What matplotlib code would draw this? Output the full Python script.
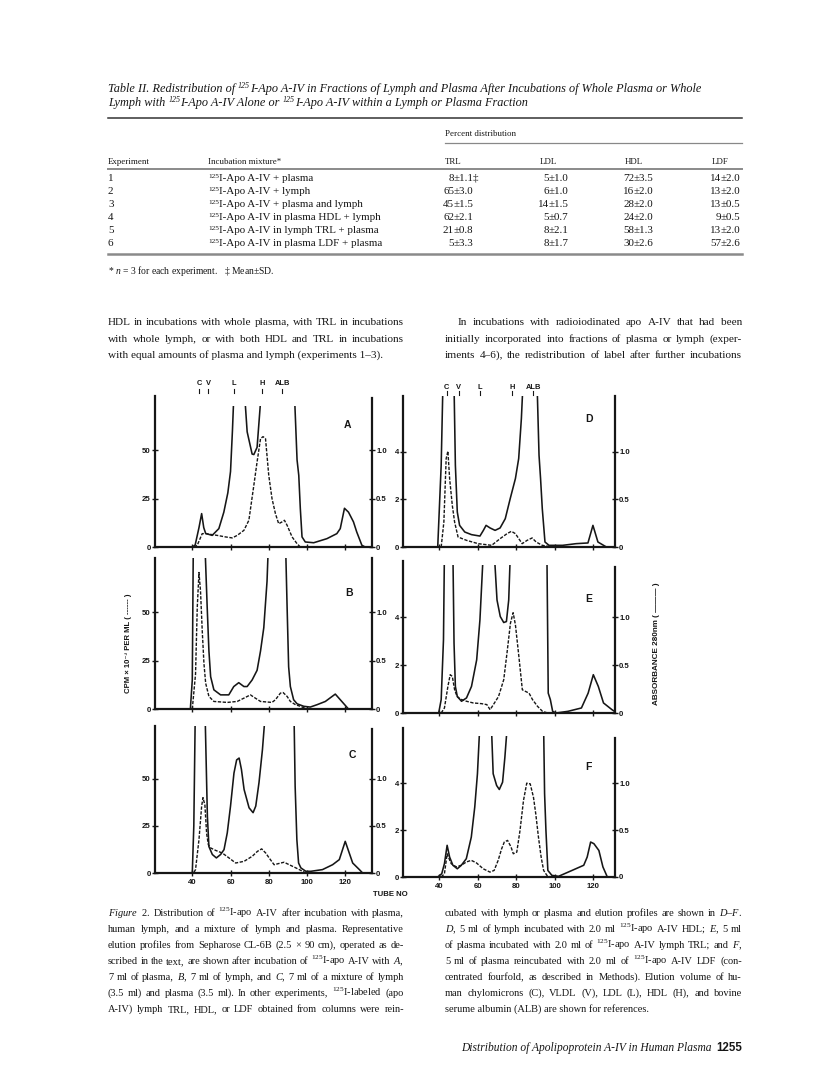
import matplotlib.pyplot as plt
from matplotlib.lines import Line2D
from matplotlib.patches import Rectangle
from matplotlib.transforms import blended_transform_factory

plt.rcParams['font.family'] = ['Liberation Serif', 'DejaVu Serif']
plt.rcParams['mathtext.fontset'] = 'custom'
plt.rcParams['mathtext.rm'] = 'Liberation Serif'
plt.rcParams['mathtext.it'] = 'Liberation Serif:italic'
plt.rcParams['mathtext.bf'] = 'Liberation Serif:bold'

# ---------------- Table II ----------------
experiments = ['1', '2', '3', '4', '5', '6']
mixtures = ['+ plasma', '+ lymph', '+ plasma and lymph', 'in plasma HDL + lymph',
            'in lymph TRL + plasma', 'in plasma LDF + plasma']
trl_mean = ['8', '65', '45', '62', '21', '5']
trl_sd = ['1.1‡', '3.0', '1.5', '2.1', '0.8', '3.3']
ldl_mean = ['5', '6', '14', '5', '8', '8']
ldl_sd = ['1.0', '1.0', '1.5', '0.7', '2.1', '1.7']
hdl_mean = ['72', '16', '28', '24', '58', '30']
hdl_sd = ['3.5', '2.0', '2.0', '2.0', '1.3', '2.6']
ldf_mean = ['14', '13', '13', '9', '13', '57']
ldf_sd = ['2.0', '2.0', '0.5', '0.5', '2.0', '2.6']
fraction_names = ['TRL', 'LDL', 'HDL', 'LDF']

# ---------------- Figure 2 elution profiles ----------------
# solid = absorbance 280 nm (right axis), dashed = cpm x 10^-3 per ml (left axis)
a_abs_x = [40, 41.5, 43.5, 44.9, 46, 47, 50.4, 53.9, 56.5, 58.6, 60, 61, 61.8, 64, 67.3, 68.7, 71.3, 72.2, 73.9, 75.7,
           76.5, 85, 93.4, 94.8, 95.7, 96.5, 97.4, 99.1, 103.5, 110.4, 115.6, 117.4, 119.6, 121.7, 124.3, 126, 128.7, 130.4]
a_abs_y = [0, 0.02, 0.2, 0.345, 0.2, 0.14, 0.12, 0.19, 0.36, 0.56, 0.78, 1.2, 1.6, 2.5, 1.6, 1.19, 0.96, 0.955, 1.03, 1.5,
           1.7, 3.0, 1.6, 0.9, 0.74, 0.4, 0.104, 0.052, 0.044, 0.086, 0.138, 0.19, 0.4, 0.36, 0.26, 0.156, 0.018, 0]
a_cpm_x = [40.9, 42.6, 45.2, 47, 53, 57.4, 60.9, 63.5, 67, 69.6, 72.2, 73.9, 75.7, 77, 78.3, 80, 81.7, 83.5, 85.2, 87,
           88.2, 89.6, 92.2, 94.8, 96.5]
a_cpm_y = [0, 0.9, 6.9, 6.9, 6, 5.2, 4.7, 6, 8.6, 13.8, 31.9, 44, 56, 57, 56, 37, 25, 17.2, 12, 13, 13.8, 11.2, 5.2, 1.7, 0]

b_abs_x = [39, 40, 40.5, 42, 46.8, 47.8, 48.7, 49.6, 51.3, 54.8, 59.1, 61.7, 64.3, 67, 68.7, 71.3, 73.9, 75.7, 77.4, 79.1,
           79.8, 85, 88.8, 89.6, 90.4, 91.3, 93, 94.8, 98.3, 101.7, 105.2, 109.6, 114.8, 117.4, 121.7]
b_abs_y = [0, 0.3, 1.6, 3.0, 1.6, 1.05, 0.6, 0.334, 0.198, 0.146, 0.146, 0.232, 0.272, 0.232, 0.232, 0.3, 0.4, 0.6, 0.84, 1.32,
           1.7, 3.0, 1.7, 1.05, 0.436, 0.232, 0.096, 0.054, 0.028, 0.02, 0.044, 0.078, 0.154, 0.096, 0]
b_cpm_x = [40, 41.7, 42.6, 43.5, 44.3, 45.2, 46.1, 47, 48.7, 51.3, 58.3, 63.5, 67, 70.4, 73, 75.7, 81.7, 83.5, 86.1, 87.5,
           89.6, 91.3, 94, 96.5, 100]
b_cpm_y = [0, 18, 52.5, 70.5, 61, 40.6, 23.5, 13.3, 6.5, 3.9, 3.4, 3.9, 5.6, 7.3, 5.6, 3.9, 3.4, 4.8, 8.2, 8.5,
           6.5, 3.9, 2.2, 1.4, 0]

c_abs_x = [40, 40.8, 41.5, 44, 46.8, 47.9, 48.7, 50.5, 52.6, 54.8, 56.6, 58.3, 60, 61.8, 63.2, 64.5, 65.7, 67.1, 69.7, 71.8,
           73.2, 74.9, 76.7, 78.2, 86, 93.2, 93.8, 94.7, 95.6, 96.8, 99.4, 102, 108.1, 113.4, 116.9, 120, 122.1, 123.9, 127.4, 129.1]
c_abs_y = [0, 0.5, 1.6, 3.0, 1.6, 0.6, 0.28, 0.196, 0.16, 0.196, 0.248, 0.426, 0.71, 1.06, 1.2, 1.22, 1.1, 0.886, 0.692, 0.64,
           0.71, 0.96, 1.31, 1.7, 3.0, 1.7, 0.92, 0.354, 0.106, 0.054, 0.018, 0.018, 0.036, 0.088, 0.142, 0.336, 0.212, 0.106, 0.036, 0]
c_cpm_x = [40.9, 41.7, 43.5, 44.9, 45.6, 46.6, 47.5, 48.4, 49.6, 52.2, 55.7, 59.2, 62.7, 67.1, 71.4, 74.1, 76.3, 78.4, 80.2,
           82.8, 86.3, 88, 90.7, 94.2, 97.7, 99.4]
c_cpm_y = [0.4, 1.8, 17.7, 35.5, 40, 36, 21, 15, 13.3, 12, 10.6, 8, 5.3, 6.2, 8.9, 11.5, 12.8, 10.6, 8,
           4.4, 5.3, 5.7, 4.4, 2.7, 0.9, 0]

d_abs_x = [39.1, 40.9, 41.8, 44.5, 47.6, 48.3, 49.3, 50.5, 53.2, 56.7, 61.1, 62.9, 64.3, 66.4, 69, 71.6, 74.3, 76.9, 79.6, 81.3,
           82.7, 83.5, 87, 90.9, 91.9, 92.7, 93.6, 95, 97.1, 104.2, 111.2, 117.4, 120, 122.6, 127]
d_abs_y = [0, 0.86, 1.7, 3.0, 1.7, 0.86, 0.3675, 0.2275, 0.1575, 0.13, 0.115, 0.175, 0.2275, 0.2, 0.175, 0.2, 0.2975, 0.51, 0.72, 0.93,
           1.35, 1.7, 3.0, 1.7, 0.965, 0.72, 0.4025, 0.0525, 0.0175, 0.0175, 0.035, 0.0425, 0.2275, 0.0525, 0]
d_cpm_x = [40.9, 42.3, 43.5, 44.4, 45.3, 46.7, 47.9, 49.7, 54.1, 60.2, 67.2, 71.6, 75.2, 77.5, 79.6, 83.1, 85.7, 88.3, 90.4,
           93.6, 98.9]
d_cpm_y = [0, 1.05, 3.72, 4.03, 2.88, 1.75, 1.05, 0.42, 0.28, 0.14, 0.07, 0.35, 0.56, 0.66, 0.56, 0.14, 0.28, 0.38, 0.21,
           0.07, 0]

e_abs_x = [39.6, 40.9, 42.1, 42.6, 44.8, 47, 47.6, 48.3, 49.3, 51.5, 54.1, 56.7, 59.4, 61.1, 62.9, 65.5, 68.5, 70, 71.7, 73.5,
           74.9, 76.1, 77, 86, 96, 96.7, 97.8, 99, 100.8, 107, 114, 117.5, 120.2, 122.8, 125.5, 129.9, 132.5]
e_abs_y = [0, 0.14, 0.765, 1.7, 3.0, 1.7, 0.73, 0.2775, 0.1725, 0.1225, 0.1575, 0.2775, 0.555, 0.9725, 1.7, 3.0, 1.7, 1.18, 1.0075, 0.945,
           0.955, 1.18, 1.7, 3.0, 1.7, 0.2075, 0.14, 0.0175, 0, 0.0175, 0.0525, 0.2075, 0.4, 0.2775, 0.105, 0.035, 0]
e_cpm_x = [40.9, 42.6, 44.4, 45.6, 46.7, 47.9, 49.2, 50.9, 54.1, 57.6, 62, 64.7, 66.4, 67.8, 70.8, 73.5, 75.2, 77, 78.4, 79.6,
           81.4, 83.2, 84.9, 86.7, 88.5, 91.1, 93.7, 96.4]
e_cpm_y = [0, 0.21, 1.11, 1.6, 1.53, 0.97, 0.69, 0.58, 0.49, 0.42, 0.39, 0.35, 0.14, 0.31, 0.69, 1.39, 2.5, 3.75, 4.19, 3.68,
           2.36, 0.97, 0.9, 0.83, 0.56, 0.28, 0.07, 0]

f_abs_x = [39.1, 41.2, 42.6, 44, 45.3, 47, 49.3, 51.4, 54, 56.6, 58.4, 59.8, 61, 64, 67.1, 68, 69.8, 71.2, 72.9, 74.1,
           75.3, 85, 94.3, 94.8, 95.5, 96.5, 98.6, 102.1, 109.1, 115.2, 117, 118.8, 120.5, 123.1, 125.2, 127.5]
f_abs_y = [0, 0.035, 0.1425, 0.3375, 0.2125, 0.125, 0.0875, 0.125, 0.195, 0.425, 0.745, 1.1, 1.6, 3.0, 1.6, 1.1, 0.975, 0.9325, 1.01, 1.275,
           1.6, 3.0, 1.6, 0.8875, 0.4975, 0.07, 0.0175, 0.0075, 0.07, 0.125, 0.2125, 0.3725, 0.355, 0.2825, 0.1075, 0]
f_cpm_x = [40.9, 42.6, 44, 46.1, 48.8, 51.4, 54, 56.6, 59.3, 62.8, 66.3, 68.5, 70.6, 72.4, 73.8, 75.5, 77.3, 78.5, 80.3, 82,
           83.8, 85.5, 87.3, 89, 90.2, 91.6, 93, 94.3, 96, 97.8]
f_cpm_y = [0, 0.14, 0.99, 0.57, 0.43, 0.5, 0.64, 0.71, 0.6, 0.35, 0.21, 0.28, 0.71, 1.2, 1.49, 1.56, 1.28, 0.99, 1.06, 1.99,
           3.26, 4.0, 3.97, 3.4, 2.69, 1.7, 0.85, 0.28, 0.07, 0]

# elution volumes of reference lipoproteins (tube no)
ref_names = ['C', 'V', 'L', 'H', 'ALB']
ref_tubes_a = [43.7, 48.4, 61.9, 76.6, 87]
ref_tubes_d = [43.7, 50, 61, 77.9, 89]

tube_ticks = [40, 60, 80, 100, 120]

W, H = 816, 1075
INK = '#161616'
SANS = ['Liberation Sans', 'DejaVu Sans']

fig = plt.figure(figsize=(W / 100, H / 100), dpi=100)
fig.patch.set_facecolor('white')
renderer = fig.canvas.get_renderer()


def put(x, y, s, size, **kw):
    kw.setdefault('color', INK)
    return fig.text(x / W, 1 - y / H, s, size=size, **kw)


def rule(y, x0, x1, lw, color):
    fig.add_artist(Line2D([x0 / W, x1 / W], [1 - y / H, 1 - y / H], lw=lw, color=color))


def runs(x, y, parts, size, **kw):
    # text pieces side by side; pieces flagged True are small raised superscripts
    for s, sup in parts:
        if sup:
            t = put(x, y - 0.42 * size, s, size * 0.66, va='baseline', **kw)
            x += t.get_window_extent(renderer).width
        else:
            t = put(x, y, s.strip(), size, va='baseline', **kw)
            lead = (len(s) - len(s.lstrip())) * 0.25 * size * 100 / 72
            trail = (len(s) - len(s.rstrip())) * 0.25 * size * 100 / 72
            t.set_x((x + lead) / W)
            x += lead + t.get_window_extent(renderer).width + trail


def justify(lines, x0, x1, y0, step, size, indent=0, last_free=True):
    # spread the words of each line over the column width, like the printed page
    for i, line in enumerate(lines):
        y = y0 + i * step
        start = x0 + (indent if i == 0 else 0)
        words = line.split(' ')
        if (last_free and i == len(lines) - 1) or len(words) == 1:
            put(start, y, line, size, va='baseline')
            continue
        texts = [put(start, y, w, size, va='baseline') for w in words]
        widths = [t.get_window_extent(renderer).width for t in texts]
        gap = (x1 - start - sum(widths)) / (len(words) - 1)
        x = start
        for t, w in zip(texts, widths):
            t.set_x(x / W)
            x += w + gap


# ---- table ----
runs(108, 92, [('Table II. Redistribution of ', False), ('125', True),
               ('I-Apo A-IV in Fractions of Lymph and Plasma After Incubations of Whole Plasma or Whole', False)],
     8.8, style='italic')
runs(108, 106, [('Lymph with ', False), ('125', True), ('I-Apo A-IV Alone or ', False), ('125', True),
                ('I-Apo A-IV within a Lymph or Plasma Fraction', False)], 8.8, style='italic')
rule(118, 108, 742, 1.1, '#333333')
put(445, 136, 'Percent distribution', 6.4, va='baseline')
rule(143, 445, 742, 0.9, '#888888')
head_y = 164
put(108, head_y, 'Experiment', 6.4, va='baseline')
put(208, head_y, 'Incubation mixture*', 6.4, va='baseline')
col_x = [445, 540, 625, 712]
for cx, name in zip(col_x, fraction_names):
    put(cx, head_y, name, 6.4, va='baseline')
rule(169, 108, 742, 1.4, '#8a8a8a')

pm_x = [454, 549, 634, 721]
columns = [(trl_mean, trl_sd), (ldl_mean, ldl_sd), (hdl_mean, hdl_sd), (ldf_mean, ldf_sd)]
for i in range(len(experiments)):
    y = 181 + i * 13
    put(108, y, experiments[i], 7.9, va='baseline')
    runs(208, y, [('125', True), ('I-Apo A-IV ' + mixtures[i], False)], 7.9)
    for px, (means, sds) in zip(pm_x, columns):
        put(px, y, means[i], 7.9, va='baseline', ha='right')
        put(px, y, '±' + sds[i], 7.9, va='baseline', ha='left')
rule(254, 108, 742, 1.8, '#8a8a8a')
put(108, 274, r'* $\mathit{n}$ = 3 for each experiment.   ‡ Mean±SD.', 6.9, va='baseline')

# ---- body text ----
body_left = ['HDL in incubations with whole plasma, with TRL in incubations',
             'with whole lymph, or with both HDL and TRL in incubations',
             'with equal amounts of plasma and lymph (experiments 1–3).']
body_right = ['In incubations with radioiodinated apo A-IV that had been',
              'initially incorporated into fractions of plasma or lymph (exper-',
              'iments 4–6), the redistribution of label after further incubations']
justify(body_left, 108, 404, 325, 16.5, 8.1)
justify(body_right, 445, 742, 325, 16.5, 8.1, indent=13, last_free=False)

# ---- figure panels ----
panels = [
    # name, solid x, solid y, dashed x, dashed y, rect px (left, bottom, w, h), xlim, cpm top, abs scale,
    # yticks, clip frac, right spine frac, letter pos, tick labels
    ('A', a_abs_x, a_abs_y, a_cpm_x, a_cpm_y, (155, 547, 217, 151), (20.5, 134), 78, 50, [0, 25, 50], 0.936, 0.99, (0.885, 0.81), False),
    ('B', b_abs_x, b_abs_y, b_cpm_x, b_cpm_y, (155, 709, 217, 151), (20.5, 134), 78, 50, [0, 25, 50], 1.0, 1.0, (0.894, 0.77), False),
    ('C', c_abs_x, c_abs_y, c_cpm_x, c_cpm_y, (155, 873, 217, 147), (20.5, 134), 78, 50, [0, 25, 50], 1.0, 0.98, (0.908, 0.80), True),
    ('D', d_abs_x, d_abs_y, d_cpm_x, d_cpm_y, (403, 547, 212, 151), (21, 131.5), 6.35, 4, [0, 2, 4], 1.0, 1.0, (0.877, 0.85), False),
    ('E', e_abs_x, e_abs_y, e_cpm_x, e_cpm_y, (403, 713, 212, 152), (21, 131.5), 6.35, 4, [0, 2, 4], 0.973, 0.96, (0.877, 0.75), False),
    ('F', f_abs_x, f_abs_y, f_cpm_x, f_cpm_y, (403, 877, 212, 149), (21, 131.5), 6.35, 4, [0, 2, 4], 0.945, 0.93, (0.873, 0.74), True),
]

axes = {}
for name, sx, sy, dx, dy, rect, xlim, top, scale, yt, clip, rfrac, lpos, xlabels in panels:
    left, bottom, w, h = rect
    ax = fig.add_axes([left / W, 1 - bottom / H, w / W, h / H])
    ax2 = ax.twinx()
    axes[name] = ax
    ax.set_xlim(*xlim)
    ax.set_ylim(0, top)
    ax2.set_ylim(0, top / scale)

    l1, = ax.plot(dx, dy, color=INK, lw=1.0, ls=(0, (2.4, 1.1)))
    l2, = ax2.plot(sx, sy, color=INK, lw=1.15)
    for ln in (l1, l2):
        ln.set_clip_path(Rectangle((0, 0), 1, clip, transform=ax.transAxes))

    for s in ('top', 'right'):
        ax.spines[s].set_visible(False)
    for s in ('top', 'left', 'bottom'):
        ax2.spines[s].set_visible(False)
    for sp in (ax.spines['left'], ax.spines['bottom'], ax2.spines['right']):
        sp.set_linewidth(1.6)
        sp.set_color(INK)
    ax2.spines['right'].set_bounds(0, rfrac * top / scale)

    ax.set_xticks(tube_ticks)
    ax.set_yticks(yt, [str(v) for v in yt], fontsize=5.6, fontweight='bold', family=SANS)
    ax2.set_yticks([0, 0.5, 1.0], ['0', '0.5', '1.0'], fontsize=5.6, fontweight='bold', family=SANS)
    ax.tick_params(axis='y', direction='inout', length=4, width=1, pad=1, colors=INK)
    ax2.tick_params(axis='y', direction='inout', length=4, width=1, pad=1, colors=INK)
    ax.tick_params(axis='x', direction='inout', length=5, width=1, pad=2, colors=INK,
                   labelbottom=xlabels, labelsize=5.6)
    if xlabels:
        for t in ax.get_xticklabels():
            t.set_fontweight('bold')
            t.set_family(SANS)

    ax.text(lpos[0], lpos[1], name, transform=ax.transAxes, fontsize=7.5, fontweight='bold',
            family=SANS, color=INK, ha='center', va='center')

# elution markers above panels A and D
for name, tubes, ylab, ytk in (('A', ref_tubes_a, 1.086, (1.046, 1.022)), ('D', ref_tubes_d, 1.053, (1.033, 1.008))):
    ax = axes[name]
    tr = blended_transform_factory(ax.transData, ax.transAxes)
    for lab, t in zip(ref_names, tubes):
        ax.text(t, ylab, lab, transform=tr, fontsize=5.4, fontweight='bold', family=SANS,
                ha='center', va='center', color=INK)
        ax.plot([t, t], list(ytk), transform=tr, color=INK, lw=0.8, clip_on=False)

put(390, 895, 'TUBE NO', 5.6, family=SANS, weight='bold', ha='center', va='center')
put(128, 643, 'CPM × 10⁻³ PER ML ( ------ )', 5.6, family=SANS, weight='bold',
    rotation=90, ha='center', va='center')
put(657, 644, 'ABSORBANCE 280nm ( ——— )', 5.9, family=SANS, weight='bold',
    rotation=90, ha='center', va='center')

# ---- caption ----
cap_left = [r'$\mathit{Figure}$ $\mathit{2.}$ Distribution of $^{125}$I-apo A-IV after incubation with plasma,',
            'human lymph, and a mixture of lymph and plasma. Representative',
            'elution profiles from Sepharose CL-6B (2.5 × 90 cm), operated as de-',
            r'scribed in the text, are shown after incubation of $^{125}$I-apo A-IV with $\mathit{A,}$',
            r'7 ml of plasma, $\mathit{B,}$ 7 ml of lymph, and $\mathit{C,}$ 7 ml of a mixture of lymph',
            r'(3.5 ml) and plasma (3.5 ml). In other experiments, $^{125}$I-labeled (apo',
            'A-IV) lymph TRL, HDL, or LDF obtained from columns were rein-']
cap_right = [r'cubated with lymph or plasma and elution profiles are shown in $\mathit{D}$–$\mathit{F.}$',
             r'$\mathit{D,}$ 5 ml of lymph incubated with 2.0 ml $^{125}$I-apo A-IV HDL; $\mathit{E,}$ 5 ml',
             r'of plasma incubated with 2.0 ml of $^{125}$I-apo A-IV lymph TRL; and $\mathit{F,}$',
             r'5 ml of plasma reincubated with 2.0 ml of $^{125}$I-apo A-IV LDF (con-',
             'centrated fourfold, as described in Methods). Elution volume of hu-',
             'man chylomicrons (C), VLDL (V), LDL (L), HDL (H), and bovine',
             'serume albumin (ALB) are shown for references.']
justify(cap_left, 108, 404, 916, 16, 7.5, last_free=False)
justify(cap_right, 445, 742, 916, 16, 7.5)

put(712, 1051, 'Distribution of Apolipoprotein A-IV in Human Plasma', 8.3, style='italic',
    ha='right', va='baseline')
put(742, 1051, '1255', 8.3, family=SANS, weight='bold', ha='right', va='baseline')

fig.savefig('out.png', dpi=100)
